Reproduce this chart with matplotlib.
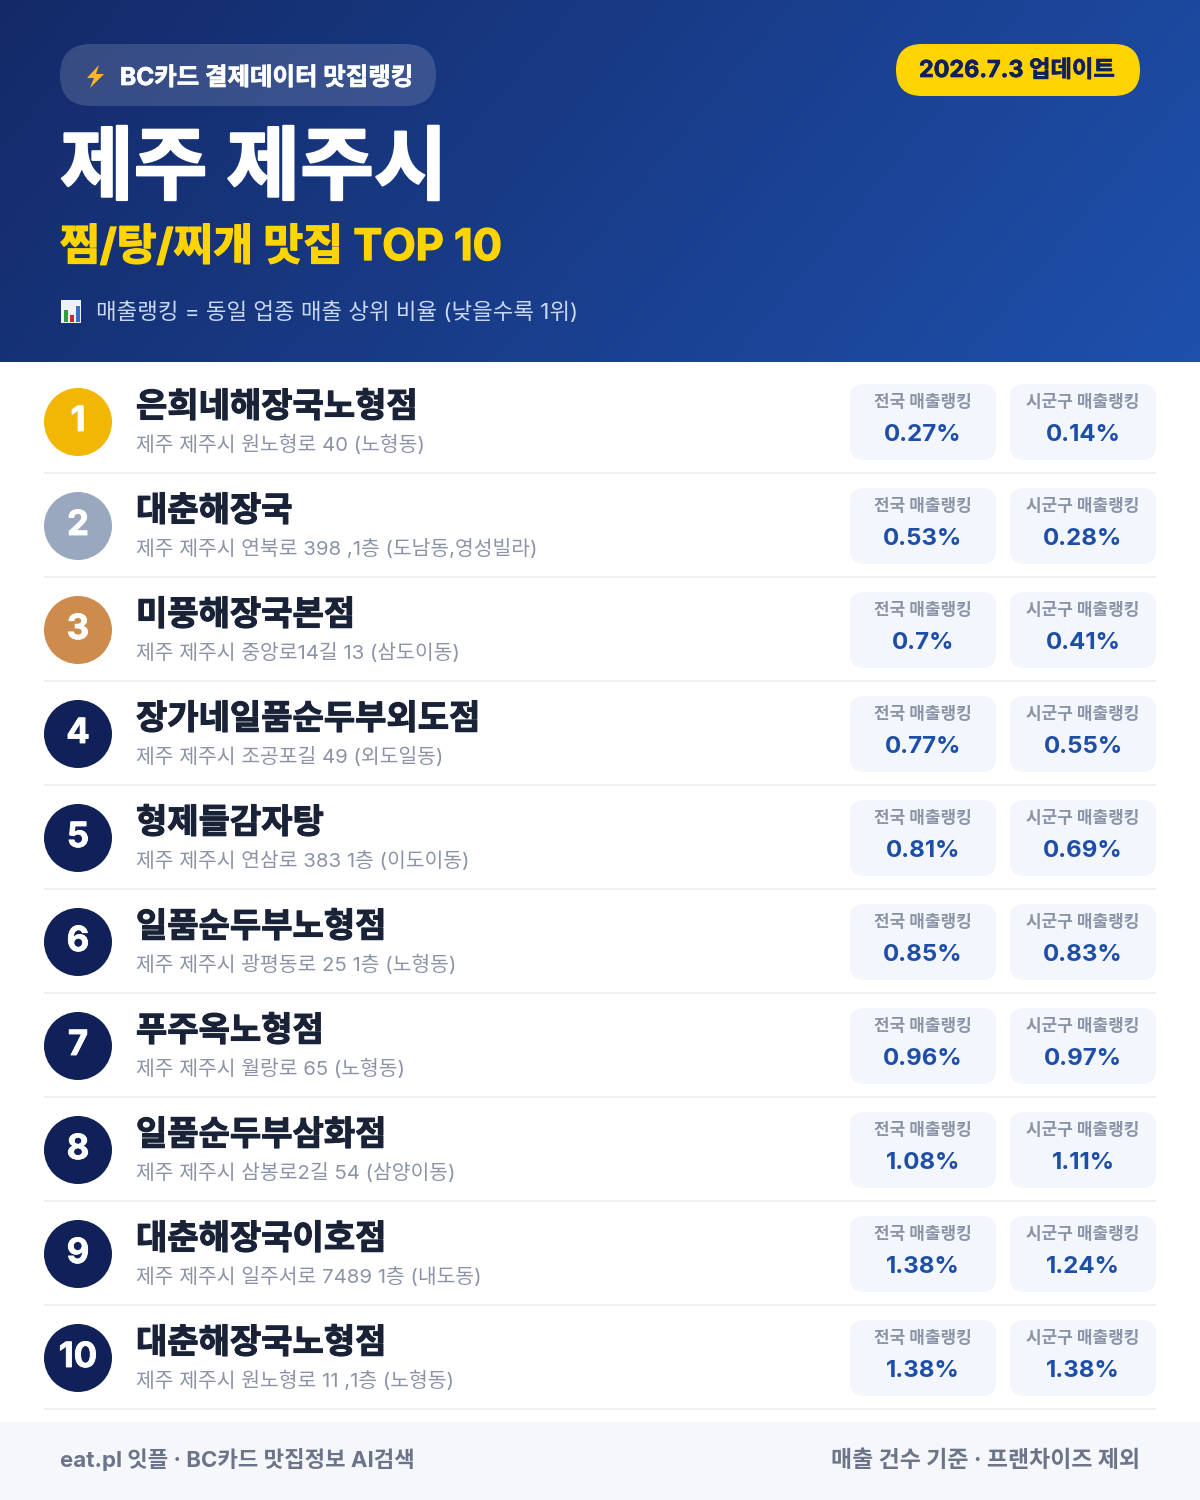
"""
Jeju-si stew restaurant ranking card.
"""

# Imports
import matplotlib
matplotlib.use('Agg')
import matplotlib.pyplot as plt
import matplotlib.patheffects as pe
from matplotlib.patches import Circle, FancyBboxPatch, Polygon, Rectangle
import numpy as np

plt.rcParams['font.family'] = ['Inter', 'Noto Sans CJK KR', 'DejaVu Sans']

# Data
ranks = [1, 2, 3, 4, 5, 6, 7, 8, 9, 10]
names = ['은희네해장국노형점', '대춘해장국', '미풍해장국본점', '장가네일품순두부외도점',
         '형제들감자탕', '일품순두부노형점', '푸주옥노형점', '일품순두부삼화점',
         '대춘해장국이호점', '대춘해장국노형점']
addresses = ['제주 제주시 원노형로 40 (노형동)',
             '제주 제주시 연북로 398 ,1층 (도남동,영성빌라)',
             '제주 제주시 중앙로14길 13 (삼도이동)',
             '제주 제주시 조공포길 49 (외도일동)',
             '제주 제주시 연삼로 383 1층 (이도이동)',
             '제주 제주시 광평동로 25 1층 (노형동)',
             '제주 제주시 월랑로 65 (노형동)',
             '제주 제주시 삼봉로2길 54 (삼양이동)',
             '제주 제주시 일주서로 7489 1층 (내도동)',
             '제주 제주시 원노형로 11 ,1층 (노형동)']
national = [0.27, 0.53, 0.7, 0.77, 0.81, 0.85, 0.96, 1.08, 1.38, 1.38]
district = [0.14, 0.28, 0.41, 0.55, 0.69, 0.83, 0.97, 1.11, 1.24, 1.38]

# Colours
NAVY = '#10215a'
BLUE = '#1e4fa8'
YELLOW = '#ffd400'
MEDALS = {1: '#f2b705', 2: '#9aa8bf', 3: '#cd8c4b'}


def rounded(ax, x0, y0, x1, y1, r, **kw):
    """
    Rounded box given by its pixel corners
    """
    ax.add_patch(FancyBboxPatch((x0 + r, y0 + r), x1 - x0 - 2*r, y1 - y0 - 2*r,
                                boxstyle=f'round,pad={r},rounding_size={r}',
                                linewidth=0, **kw))


def heavy(width, color):
    """
    Thicken a bold text, the font has no heavier cut
    """
    return [pe.withStroke(linewidth=width, foreground=color)]


fig = plt.figure(figsize=(12, 15), dpi=100)
ax = fig.add_axes([0, 0, 1, 1])
ax.set_xlim(0, 1200)
ax.set_ylim(1500, 0)
ax.axis('off')

# Header gradient
xx, yy = np.meshgrid(np.linspace(0, 1, 600), np.linspace(0, 1, 180))
t = (xx*0.8 + yy*0.2)[..., None]
start, end = np.array([0x14, 0x2a, 0x68]), np.array([0x1e, 0x50, 0xac])
ax.imshow((start + (end - start)*t)/255, extent=(0, 1200, 362, 0),
          aspect='auto', zorder=0)
ax.set_xlim(0, 1200)
ax.set_ylim(1500, 0)

# Header chips
rounded(ax, 60, 44, 436, 106, 31, facecolor='white', alpha=0.15)
rounded(ax, 896, 44, 1140, 96, 26, facecolor=YELLOW)
ax.add_patch(Polygon([(99, 65), (87, 78), (94, 78), (90, 88), (104, 74), (96, 74)],
                     facecolor='#ffb81f', edgecolor='none'))
ax.text(120, 85, 'BC카드 결제데이터 맛집랭킹', color='white', fontsize=17.6,
        fontweight='bold', path_effects=heavy(0.5, 'white'))
ax.text(1017, 77, '2026.7.3 업데이트', color=NAVY, fontsize=16.8,
        fontweight='bold', ha='center', path_effects=heavy(0.5, NAVY))

# Header text
ax.text(60, 193, '제주 제주시', color='white', fontsize=57.7, fontweight='bold',
        path_effects=heavy(1.5, 'white'))
ax.text(60, 260, '찜/탕/찌개 맛집 TOP 10', color=YELLOW, fontsize=31.2,
        fontweight='bold', path_effects=heavy(1, YELLOW))
ax.add_patch(Rectangle((61, 300), 20, 23, facecolor='#eef2f7', edgecolor='none'))
for bx, bh, bc in zip([64, 70, 76], [12, 7, 16], ['#2f9e44', '#d6262c', '#3b6fc4']):
    ax.add_patch(Rectangle((bx, 322 - bh), 4, bh, facecolor=bc, edgecolor='none'))
ax.text(96, 319, '매출랭킹 = 동일 업종 매출 상위 비율 (낮을수록 1위)', color='#c9d8f0',
        fontsize=16.1)

# Rows
for i, rank in enumerate(ranks):
    top = 362 + 104*i
    ax.add_patch(Circle((78, top + 60), 34, facecolor=MEDALS.get(rank, NAVY),
                        edgecolor='none'))
    ax.text(78, top + 69, str(rank), color='white', fontsize=25, fontweight='bold',
            ha='center', path_effects=heavy(0.6, 'white'))
    ax.text(136, top + 55, names[i], color='#1a2238', fontsize=24.5, fontweight=900,
            path_effects=heavy(0.8, '#1a2238'))
    ax.text(136, top + 89, addresses[i], color='#8b94a6', fontsize=14.7)
    for x0, label, value in zip([850, 1010], ['전국 매출랭킹', '시군구 매출랭킹'],
                                [national[i], district[i]]):
        rounded(ax, x0, top + 22, x0 + 146, top + 98, 14, facecolor='#f3f6fd')
        ax.text(x0 + 73, top + 45, label, color='#8b94a6', fontsize=12.2,
                fontweight='bold', ha='center')
        ax.text(x0 + 73, top + 79, f'{value:g}%', color=BLUE, fontsize=17.3,
                fontweight='bold', ha='center')
    ax.add_patch(Rectangle((44, top + 110), 1112, 2, facecolor='#eef0f3',
                           edgecolor='none'))

# Footer
ax.add_patch(Rectangle((0, 1422), 1200, 78, facecolor='#f5f7fb', edgecolor='none'))
ax.text(60, 1467, 'eat.pl 잇플 · BC카드 맛집정보 AI검색', color='#6b7488', fontsize=16,
        fontweight='bold')
ax.text(1140, 1467, '매출 건수 기준 · 프랜차이즈 제외', color='#6b7488', fontsize=16.5,
        fontweight='bold', ha='right')

fig.savefig('out.png', dpi=100)
